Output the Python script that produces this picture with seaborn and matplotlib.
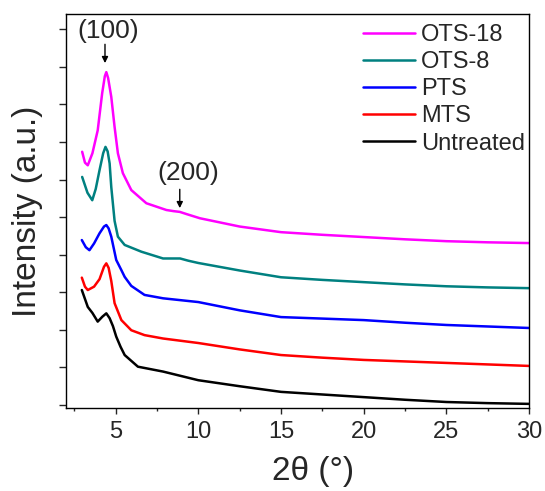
import matplotlib
matplotlib.use("Agg")
import matplotlib.pyplot as plt
from matplotlib.ticker import MultipleLocator
import seaborn as sns
import pandas as pd

sns.set_style("ticks")
plt.rcParams['font.family'] = ['Liberation Sans', 'DejaVu Sans']

# Series (2theta in degrees, intensity in arbitrary offset units)
untreated_x = [2.96, 3.32, 3.6, 3.92, 4.2, 4.44, 4.64, 4.84, 5.04, 5.3, 5.55, 6.35, 7.87, 10, 12.5, 15, 17.5, 20, 22.5, 25, 27.5, 30]
untreated_y = [3.06, 2.61, 2.45, 2.22, 2.35, 2.44, 2.31, 2.1, 1.82, 1.55, 1.33, 1.02, 0.89, 0.66, 0.5, 0.35, 0.28, 0.21, 0.14, 0.08, 0.05, 0.03]

mts_x = [2.96, 3.15, 3.32, 3.7, 4.03, 4.3, 4.44, 4.58, 4.74, 4.94, 5.35, 5.95, 6.75, 7.87, 10, 12.5, 15, 17.5, 20, 22.5, 25, 27.5, 30]
mts_y = [3.39, 3.15, 3.06, 3.15, 3.35, 3.68, 3.77, 3.65, 3.3, 2.71, 2.26, 1.99, 1.86, 1.77, 1.65, 1.48, 1.33, 1.26, 1.2, 1.16, 1.12, 1.08, 1.04]

pts_x = [2.96, 3.2, 3.42, 3.7, 4.03, 4.3, 4.44, 4.58, 4.74, 5.04, 5.35, 5.55, 5.95, 6.75, 7.87, 10, 12.5, 15, 17.5, 20, 22.5, 25, 27.5, 30]
pts_y = [4.39, 4.2, 4.12, 4.3, 4.57, 4.75, 4.79, 4.7, 4.48, 3.86, 3.59, 3.41, 3.17, 2.93, 2.84, 2.74, 2.52, 2.34, 2.3, 2.26, 2.19, 2.13, 2.09, 2.05]

ots8_x = [2.98, 3.3, 3.59, 3.8, 4.03, 4.25, 4.39, 4.52, 4.64, 4.74, 4.84, 4.94, 5.14, 5.55, 6.56, 7.87, 8.5, 8.9, 9.4, 10, 12.5, 15, 17.5, 20, 22.5, 25, 27.5, 30]
ots8_y = [6.07, 5.65, 5.45, 5.75, 6.25, 6.7, 6.87, 6.75, 6.43, 5.8, 5.35, 4.9, 4.48, 4.26, 4.08, 3.9, 3.9, 3.9, 3.84, 3.78, 3.58, 3.4, 3.33, 3.27, 3.21, 3.16, 3.13, 3.11]

ots18_x = [2.98, 3.15, 3.32, 3.6, 3.92, 4.19, 4.35, 4.44, 4.55, 4.74, 4.94, 5.14, 5.44, 5.95, 6.86, 8.07, 8.5, 8.88, 9.3, 10.1, 12.5, 15, 17.5, 20, 22.5, 25, 27.5, 30]
ots18_y = [6.74, 6.45, 6.38, 6.7, 7.31, 8.3, 8.75, 8.86, 8.7, 8.2, 7.4, 6.7, 6.17, 5.72, 5.37, 5.19, 5.16, 5.14, 5.08, 4.97, 4.75, 4.6, 4.53, 4.47, 4.41, 4.36, 4.33, 4.31]

series_names = ["OTS-18", "OTS-8", "PTS", "MTS", "Untreated"]
series_colors = ["#ff00ff", "#008080", "#0000ff", "#ff0000", "#000000"]

peak_labels = ["(100)", "(200)"]
peak_tips = [(4.36, 9.1), (8.88, 5.24)]
peak_text = [(4.58, 9.95), (9.37, 6.17)]

frames = []
for name, xs, ys in [("OTS-18", ots18_x, ots18_y), ("OTS-8", ots8_x, ots8_y),
                     ("PTS", pts_x, pts_y), ("MTS", mts_x, mts_y),
                     ("Untreated", untreated_x, untreated_y)]:
    frames.append(pd.DataFrame({"x": xs, "y": ys, "sample": name}))
df = pd.concat(frames, ignore_index=True)

fig = plt.figure(figsize=(5.45, 4.91), dpi=100)
ax = fig.add_axes([0.121, 0.169, 0.850, 0.802])

sns.lineplot(data=df, x="x", y="y", hue="sample", hue_order=series_names,
             palette=dict(zip(series_names, series_colors)), linewidth=1.8,
             sort=True, estimator=None, ax=ax)

ax.set_xlim(2.0, 30)
ax.set_ylim(-0.08, 10.4)
ax.xaxis.set_major_locator(MultipleLocator(5))
ax.xaxis.set_minor_locator(MultipleLocator(2.5))
ax.set_xticks([5, 10, 15, 20, 25, 30])
ax.set_yticks(range(11))
ax.set_yticklabels([])
ax.tick_params(axis='x', which='major', length=4, width=1.0, direction='out', labelsize=17, pad=5)
ax.tick_params(axis='x', which='minor', length=2.5, width=1.0, direction='out')
ax.tick_params(axis='y', which='major', length=5, width=1.0, direction='out')
for sp in ax.spines.values():
    sp.set_linewidth(1.0)
    sp.set_color('black')

ax.set_xlabel("2θ (°)", fontsize=24, labelpad=10)
ax.xaxis.label.set_x(0.533)
ax.set_ylabel("Intensity (a.u.)", fontsize=24, labelpad=8)

for lab, tip, txt in zip(peak_labels, peak_tips, peak_text):
    ax.text(txt[0], txt[1], lab, ha='center', va='center', fontsize=19)
    ax.annotate("", xy=tip, xytext=(tip[0], tip[1] + 0.5),
                arrowprops=dict(arrowstyle='-|>', color='black', lw=1.0,
                                mutation_scale=9, shrinkA=0, shrinkB=0))

leg = ax.legend(loc='upper right', bbox_to_anchor=(1.005, 0.992), frameon=False,
                fontsize=17, handlelength=2.2, handletextpad=0.25, labelspacing=0.22,
                borderaxespad=0.0, borderpad=0.27)
for h in leg.get_lines():
    h.set_linewidth(1.8)

fig.savefig("out.png", dpi=100)
